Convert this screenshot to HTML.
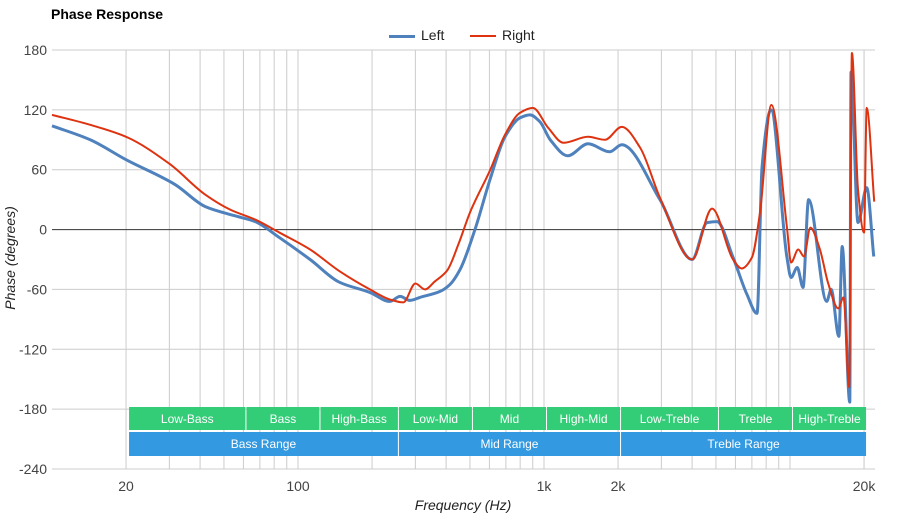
<!DOCTYPE html>
<html><head><meta charset="utf-8"><style>
body{margin:0;background:#fff;font-family:"Liberation Sans",sans-serif}
svg{display:block}
</style></head><body>
<svg id="c" width="900" height="520" font-family="Liberation Sans, sans-serif"></svg>
<script>
const leftFreq=[10,14.3,20,31.7,42,55,67,84,112,148,196,236,260,285,313,378,415,456,524,603,694,798,877,963,1060,1250,1510,1850,2070,2960,4000,4600,5050,5870,6683,7345,7700,8370,9720,10100,10700,11300,11900,14100,14700,15800,16300,17500,17700,18900,20500,21900];
const leftPhase=[104,90,70,45,23,14,8,-8,-30,-53,-63,-72,-67,-71,-68,-62,-55,-40,0,50,93,112,115,108,90,74,86,78,85,30,-30,7,8,-28,-65,-84,63,120,-28,-48,-38,-58,30,-72,-60,-107,-17,-173,158,7,42,-27];
const rightFreq=[10,14.3,20,30,42,53,67,84,112,148,196,236,268,300,328,360,404,450,500,605,694,798,900,1040,1200,1510,1770,2070,2460,2960,4000,4820,5870,6360,7000,7550,8400,9720,10100,10800,11400,12100,13200,14300,15700,16500,17400,17850,18900,20000,20500,22000];
const rightPhase=[115,105,93,66,35,20,10,-3,-20,-42,-60,-70,-73,-54,-60,-52,-41,-14,17,60,95,117,122,102,87,93,90,103,82,32,-30,21,-30,-39,-28,17,125,2,-33,-20,-27,2,-19,-54,-79,-68,-158,177,40,-3,122,28];
const yTicks=[180,120,60,0,-60,-120,-180,-240];
const xTickLabels=["20","100","1k","2k","20k"];
const xTickValues=[20,100,1000,2000,20000];
const bandNames=["Low-Bass","Bass","High-Bass","Low-Mid","Mid","High-Mid","Low-Treble","Treble","High-Treble"];
const bandEdges=[20,60,120,250,500,1000,2000,5000,10000,20000];
const rangeNames=["Bass Range","Mid Range","Treble Range"];
const rangeEdges=[20,250,2000,20000];

const svg=document.getElementById('c');
const NS='http://www.w3.org/2000/svg';
const X0=52,X1=875;
const xs=f=>298+(Math.log10(f)-2)*246;
const ys=v=>50+(180-v)*419/420;
function mk(t,a,p){const e=document.createElementNS(NS,t);for(const k in a)e.setAttribute(k,a[k]);(p||svg).appendChild(e);return e;}

const grid=mk('g',{});


const vf=[];
for(let d=10;d<=10000;d*=10)for(let m=1;m<=9;m++){const f=d*m;if(f>=20&&f<=20000)vf.push(f);}
vf.push(20000);
vf.forEach(f=>{const l=mk('line',{x1:xs(f),x2:xs(f),y1:50,y2:469,stroke:'#ccc','stroke-width':1},grid);

});
yTicks.forEach(v=>{const l=mk('line',{x1:X0,x2:X1,y1:ys(v),y2:ys(v),stroke:v===0?'#333':'#ccc','stroke-width':1},grid);


const t=mk('text',{x:47,y:ys(v)+5,'text-anchor':'end','font-size':14,fill:'#444'});t.textContent=v;

});
xTickValues.forEach((f,i)=>{const t=mk('text',{x:xs(f),y:491,'text-anchor':'middle','font-size':14,fill:'#444'});t.textContent=xTickLabels[i];

});

bandNames.forEach((n,i)=>{const a=xs(bandEdges[i])+3,b=xs(bandEdges[i+1])+2;
const r=mk('rect',{x:a,y:407,width:b-a,height:23,fill:'#33cc77'});


const t=mk('text',{x:(a+b)/2,y:423,'text-anchor':'middle','font-size':12,fill:'#fff'});t.textContent=n;

});
rangeNames.forEach((n,i)=>{const a=xs(rangeEdges[i])+3,b=xs(rangeEdges[i+1])+2;
const r=mk('rect',{x:a,y:432,width:b-a,height:24,fill:'#3399e0'});


const t=mk('text',{x:(a+b)/2,y:448,'text-anchor':'middle','font-size':12,fill:'#fff'});t.textContent=n;

});

function monoPath(px,py){const n=px.length,d=[],m=[];
for(let i=0;i<n-1;i++)d.push((py[i+1]-py[i])/(px[i+1]-px[i]));
m[0]=d[0];m[n-1]=d[n-2];
for(let i=1;i<n-1;i++){if(d[i-1]*d[i]<=0)m[i]=0;else{const h0=px[i]-px[i-1],h1=px[i+1]-px[i];m[i]=3*(h0+h1)/((2*h1+h0)/d[i-1]+(h1+2*h0)/d[i]);}}
let s='M'+px[0]+','+py[0];
for(let i=0;i<n-1;i++){const h=(px[i+1]-px[i])/3;
s+='C'+(px[i]+h)+','+(py[i]+m[i]*h)+' '+(px[i+1]-h)+','+(py[i+1]-m[i+1]*h)+' '+px[i+1]+','+py[i+1];}
return s;}
const lp=mk('path',{d:monoPath(leftFreq.map(xs),leftPhase.map(ys)),fill:'none',stroke:'#4f81bd','stroke-width':3,'stroke-linejoin':'round'});


const rp=mk('path',{d:monoPath(rightFreq.map(xs),rightPhase.map(ys)),fill:'none',stroke:'#dd3311','stroke-width':2,'stroke-linejoin':'round'});


</script>
<div style="position:absolute;left:0;top:0;width:900px;height:520px;pointer-events:none">
<div style="position:absolute;left:51px;top:6px;font-weight:bold;font-size:14px;color:#000">Phase Response</div>
<div style="position:absolute;left:389px;top:27px;font-size:14px;color:#222"><span style="display:inline-block;width:26px;height:3px;background:#4f81bd;vertical-align:middle;margin-right:6px"></span>Left</div>
<div style="position:absolute;left:470px;top:27px;font-size:14px;color:#222"><span style="display:inline-block;width:26px;height:2px;background:#dd3311;vertical-align:middle;margin-right:6px"></span>Right</div>
<div style="position:absolute;left:0;width:926px;top:497px;text-align:center;font-style:italic;font-size:14px;color:#222">Frequency (Hz)</div>
<div style="position:absolute;left:-45px;top:250px;width:110px;text-align:center;font-style:italic;font-size:14px;color:#222;transform:rotate(-90deg)">Phase (degrees)</div>
</div>
</body></html>
